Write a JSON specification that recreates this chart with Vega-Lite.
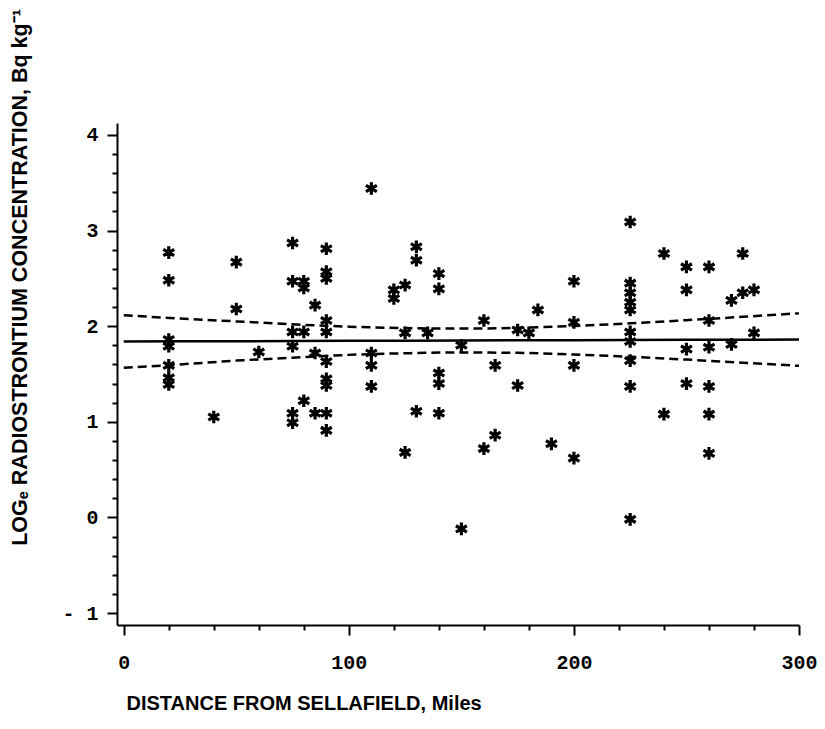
{
  "$schema": "https://vega.github.io/schema/vega-lite/v6.json",
  "width": 682,
  "height": 502,
  "autosize": {"type": "none"},
  "padding": {"left": 117, "top": 123, "right": 26, "bottom": 104},
  "background": "white",
  "config": {"view": {"stroke": null}},
  "resolve": {"scale": {"x": "shared", "y": "shared"}, "axis": {"y": "independent"}},
  "datasets": {
    "pts": [
      {"dist": 20, "logc": 2.77}, {"dist": 20, "logc": 2.48}, {"dist": 20, "logc": 1.86}, {"dist": 20, "logc": 1.79}, {"dist": 20, "logc": 1.59}, {"dist": 20, "logc": 1.46}, {"dist": 20, "logc": 1.39},
      {"dist": 40, "logc": 1.05},
      {"dist": 50, "logc": 2.67}, {"dist": 50, "logc": 2.18},
      {"dist": 60, "logc": 1.73},
      {"dist": 75, "logc": 2.87}, {"dist": 75, "logc": 2.47}, {"dist": 75, "logc": 1.94}, {"dist": 75, "logc": 1.79}, {"dist": 75, "logc": 1.09}, {"dist": 75, "logc": 0.99},
      {"dist": 80, "logc": 2.47}, {"dist": 80, "logc": 2.4}, {"dist": 80, "logc": 1.94}, {"dist": 80, "logc": 1.22},
      {"dist": 85, "logc": 2.22}, {"dist": 85, "logc": 1.72}, {"dist": 85, "logc": 1.09},
      {"dist": 90, "logc": 2.81}, {"dist": 90, "logc": 2.57}, {"dist": 90, "logc": 2.5}, {"dist": 90, "logc": 2.06}, {"dist": 90, "logc": 1.94}, {"dist": 90, "logc": 1.63}, {"dist": 90, "logc": 1.45}, {"dist": 90, "logc": 1.38}, {"dist": 90, "logc": 1.09}, {"dist": 90, "logc": 0.91},
      {"dist": 110, "logc": 3.44}, {"dist": 110, "logc": 1.72}, {"dist": 110, "logc": 1.59}, {"dist": 110, "logc": 1.37},
      {"dist": 120, "logc": 2.38}, {"dist": 120, "logc": 2.29},
      {"dist": 125, "logc": 2.43}, {"dist": 125, "logc": 1.93}, {"dist": 125, "logc": 0.68},
      {"dist": 130, "logc": 2.83}, {"dist": 130, "logc": 2.69}, {"dist": 130, "logc": 1.11},
      {"dist": 135, "logc": 1.93},
      {"dist": 140, "logc": 2.55}, {"dist": 140, "logc": 2.39}, {"dist": 140, "logc": 1.51}, {"dist": 140, "logc": 1.4}, {"dist": 140, "logc": 1.09},
      {"dist": 150, "logc": 1.8}, {"dist": 150, "logc": -0.12},
      {"dist": 160, "logc": 2.06}, {"dist": 160, "logc": 0.72},
      {"dist": 165, "logc": 1.59}, {"dist": 165, "logc": 0.86},
      {"dist": 175, "logc": 1.96}, {"dist": 175, "logc": 1.38},
      {"dist": 180, "logc": 1.93},
      {"dist": 184, "logc": 2.17},
      {"dist": 190, "logc": 0.77},
      {"dist": 200, "logc": 2.47}, {"dist": 200, "logc": 2.04}, {"dist": 200, "logc": 1.59}, {"dist": 200, "logc": 0.62},
      {"dist": 225, "logc": 3.09}, {"dist": 225, "logc": 2.45}, {"dist": 225, "logc": 2.35}, {"dist": 225, "logc": 2.25}, {"dist": 225, "logc": 2.17}, {"dist": 225, "logc": 1.94}, {"dist": 225, "logc": 1.84}, {"dist": 225, "logc": 1.64}, {"dist": 225, "logc": 1.37}, {"dist": 225, "logc": -0.02},
      {"dist": 240, "logc": 2.76}, {"dist": 240, "logc": 1.08},
      {"dist": 250, "logc": 2.62}, {"dist": 250, "logc": 2.38}, {"dist": 250, "logc": 1.76}, {"dist": 250, "logc": 1.4},
      {"dist": 260, "logc": 2.62}, {"dist": 260, "logc": 2.06}, {"dist": 260, "logc": 1.78}, {"dist": 260, "logc": 1.37}, {"dist": 260, "logc": 1.08}, {"dist": 260, "logc": 0.67},
      {"dist": 270, "logc": 2.27}, {"dist": 270, "logc": 1.81},
      {"dist": 275, "logc": 2.76}, {"dist": 275, "logc": 2.35},
      {"dist": 280, "logc": 2.38}, {"dist": 280, "logc": 1.93}
    ],
    "fit": [
      {"dist": 0, "fit": 1.84, "upper": 2.115, "lower": 1.565},
      {"dist": 25, "fit": 1.842, "upper": 2.08, "lower": 1.6},
      {"dist": 50, "fit": 1.843, "upper": 2.05, "lower": 1.64},
      {"dist": 75, "fit": 1.845, "upper": 2.02, "lower": 1.67},
      {"dist": 100, "fit": 1.847, "upper": 1.995, "lower": 1.7},
      {"dist": 125, "fit": 1.848, "upper": 1.98, "lower": 1.717},
      {"dist": 150, "fit": 1.85, "upper": 1.975, "lower": 1.725},
      {"dist": 175, "fit": 1.852, "upper": 1.983, "lower": 1.721},
      {"dist": 200, "fit": 1.853, "upper": 2.003, "lower": 1.703},
      {"dist": 225, "fit": 1.855, "upper": 2.03, "lower": 1.68},
      {"dist": 250, "fit": 1.857, "upper": 2.063, "lower": 1.651},
      {"dist": 275, "fit": 1.858, "upper": 2.098, "lower": 1.618},
      {"dist": 300, "fit": 1.86, "upper": 2.135, "lower": 1.585}
    ]
  },
  "layer": [
    {
      "data": {"name": "fit"},
      "mark": {"type": "line", "color": "black", "strokeWidth": 2.5},
      "encoding": {
        "x": {"field": "dist", "type": "quantitative"},
        "y": {
          "field": "fit", "type": "quantitative",
          "axis": {
            "orient": "left",
            "values": [-0.8,-0.6,-0.4,-0.2,0.2,0.4,0.6,0.8,1.2,1.4,1.6,1.8,2.2,2.4,2.6,2.8,3.2,3.4,3.6,3.8],
            "labels": false, "domain": false, "grid": false, "title": null,
            "tickSize": 5, "tickWidth": 2, "tickColor": "black"
          }
        }
      }
    },
    {
      "data": {"name": "fit"},
      "mark": {"type": "line", "color": "black", "strokeWidth": 2.5, "strokeDash": [9, 5], "interpolate": "monotone"},
      "encoding": {
        "x": {"field": "dist", "type": "quantitative"},
        "y": {"field": "upper", "type": "quantitative", "axis": null}
      }
    },
    {
      "data": {"name": "fit"},
      "mark": {"type": "line", "color": "black", "strokeWidth": 2.5, "strokeDash": [9, 5], "interpolate": "monotone"},
      "encoding": {
        "x": {"field": "dist", "type": "quantitative"},
        "y": {"field": "lower", "type": "quantitative", "axis": null}
      }
    },
    {
      "data": {"name": "pts"},
      "mark": {"type": "point", "shape": "M0,-1L0,1M-0.866,-0.5L0.866,0.5M-0.866,0.5L0.866,-0.5", "filled": false, "stroke": "black", "strokeWidth": 3.2, "size": 160, "opacity": 1},
      "encoding": {
        "x": {
          "field": "dist", "type": "quantitative",
          "scale": {"domain": [-3, 300], "nice": false, "zero": false},
          "axis": {
            "title": "DISTANCE FROM SELLAFIELD, Miles",
            "values": [0,10,20,30,40,50,60,70,80,90,100,110,120,130,140,150,160,170,180,190,200,210,220,230,240,250,260,270,280,290,300],
            "labelExpr": "datum.value % 100 === 0 ? datum.label : ''",
            "tickSize": {"condition": {"test": "datum.value % 100 === 0", "value": 10}, "value": 5},
            "tickColor": "black", "tickWidth": 2,
            "domainColor": "black", "domainWidth": 2,
            "grid": false,
            "labelFont": "Liberation Mono", "labelFontWeight": "bold", "labelFontSize": 20, "labelColor": "black",
            "labelPadding": 17, "labelFlush": false, "labelOverlap": false,
            "titleFont": "Liberation Sans", "titleFontWeight": "bold", "titleFontSize": 20, "titleColor": "black",
            "titleAnchor": null, "titleAlign": "left", "titleX": 9, "titleY": 84, "titleBaseline": "alphabetic"
          }
        },
        "y": {
          "field": "logc", "type": "quantitative",
          "scale": {"domain": [-1.125, 4.125], "nice": false, "zero": false},
          "axis": {
            "orient": "left",
            "title": "LOGₑ RADIOSTRONTIUM CONCENTRATION, Bq kg⁻¹",
            "values": [-1, 0, 1, 2, 3, 4],
            "labelExpr": "datum.value < 0 ? '- 1' : format(datum.value, 'd')",
            "tickSize": 10,
            "tickColor": "black", "tickWidth": 2,
            "domainColor": "black", "domainWidth": 2,
            "grid": false,
            "labelFont": "Liberation Mono", "labelFontWeight": "bold", "labelFontSize": 20, "labelColor": "black",
            "labelPadding": 9, "labelFlush": false, "labelOverlap": false,
            "titleFont": "Liberation Sans", "titleFontWeight": "bold", "titleFontSize": 21.5, "titleColor": "black",
            "titleAnchor": null, "titleAlign": "center", "titleAngle": 270, "titleX": -97, "titleY": 154, "titleBaseline": "middle"
          }
        }
      }
    }
  ]
}
